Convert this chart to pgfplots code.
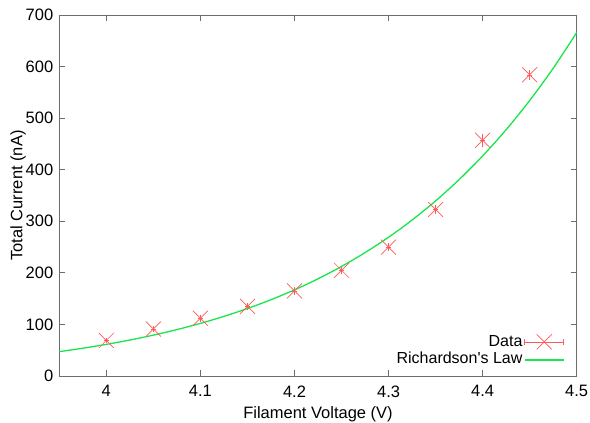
\documentclass[border=0pt]{standalone}
\usepackage{fontspec}
\setmainfont{Liberation Sans}
\newfontfamily\plainfont{Liberation Sans}
\usepackage{pgfplots}
\pgfplotsset{compat=1.18}
\definecolor{datared}{rgb}{1,0.35,0.35}
\definecolor{fitgreen}{rgb}{0.1,0.9,0.3}
\begin{document}
\begin{tikzpicture}
\begin{axis}[
  name=ax,
  scale only axis,
  width=517.4pt, height=361pt,
  xmin=3.95, xmax=4.5, ymin=0, ymax=700,
  xtick={4,4.1,4.2,4.3,4.4,4.5},
  ytick={0,100,200,300,400,500,600,700},
  xticklabels={4,4.1,4.2,4.3,4.4,4.5},
  tick align=inside,
  major tick length=6pt,
  axis line style={gray!85!black, line width=0.8pt},
  tick style={gray!85!black, line width=0.8pt},
  /pgf/number format/assume math mode=true,
  tick label style={font=\fontsize{16.5}{18}\selectfont},
  yticklabel style={xshift=-2.5pt},
  xticklabel style={yshift=-6pt},
  label style={font=\fontsize{16.5}{18}\selectfont},
  xlabel={Filament Voltage (V)},
  ylabel={Total Current (nA)},
  xlabel style={at={(axis description cs:0.5,0)}, anchor=base, yshift=-42.3pt},
  ylabel style={at={(axis description cs:0,0.5)}, anchor=base, rotate=0, yshift=37pt},
  legend plot pos=right,
  legend cell align=right,
  legend style={draw=none, fill=none, at={(1,0)}, anchor=south east,
    xshift=-9pt, yshift=5pt,
    font=\plainfont\fontsize{16}{18}\selectfont, row sep=0pt,
    nodes={inner sep=1.5pt, text height=11.6pt, text depth=3.3pt}},
]
\addplot[datared, line width=0.6pt, only marks, mark=x, mark size=10.6pt,
  mark options={line width=0.7pt},
  legend image code/.code={
    \draw[datared, line width=0.6pt] (3pt,0pt) -- (42pt,0pt);
    \draw[datared, line width=0.6pt] (3pt,-3pt) -- (3pt,3pt);
    \draw[datared, line width=0.6pt] (42pt,-3pt) -- (42pt,3pt);
    \draw[datared, line width=0.7pt] (15pt,-7.5pt) -- (30pt,7.5pt) (15pt,7.5pt) -- (30pt,-7.5pt);
  },
  error bars/.cd, x dir=both, x explicit, y dir=both, y explicit,
  error bar style={datared, line width=0.6pt},
  error mark options={mark size=1.8pt, datared}]
  table[x=x, y=y, x error=ex, y error=ey] {
x y ex ey
4.00 69 0.0008 2
4.05 91 0.0008 2.5
4.10 112 0.0008 3
4.15 135 0.0008 3
4.20 165 0.0008 3.5
4.25 205 0.0008 4
4.30 250 0.0008 4.5
4.35 323 0.0008 5
4.40 457 0.0008 9
4.45 584 0.0008 6
};
\addlegendentry{Data}
\addplot[fitgreen, line width=1.3pt, no marks, smooth,
  legend image code/.code={\draw[fitgreen, line width=1.6pt] (3pt,0pt) -- (42pt,0pt);}]
  coordinates {
(3.95,47.25) (3.975,53.84) (4.0,61.3) (4.025,69.75) (4.05,79.24) (4.075,89.94)
(4.1,102.0) (4.125,115.6) (4.15,130.8) (4.175,147.9) (4.2,167.0) (4.225,188.4)
(4.25,212.4) (4.275,239.2) (4.3,269.0) (4.325,302.4) (4.35,339.5) (4.375,380.8)
(4.4,426.7) (4.425,477.6) (4.45,534.1) (4.475,596.7) (4.5,666.0)
};
\addlegendentry{Richardson's Law}
\end{axis}
\pgfresetboundingbox
\path ([xshift=-59.3pt,yshift=-47pt]ax.south west) rectangle ([xshift=13.3pt,yshift=15pt]ax.north east);
\end{tikzpicture}
\end{document}
